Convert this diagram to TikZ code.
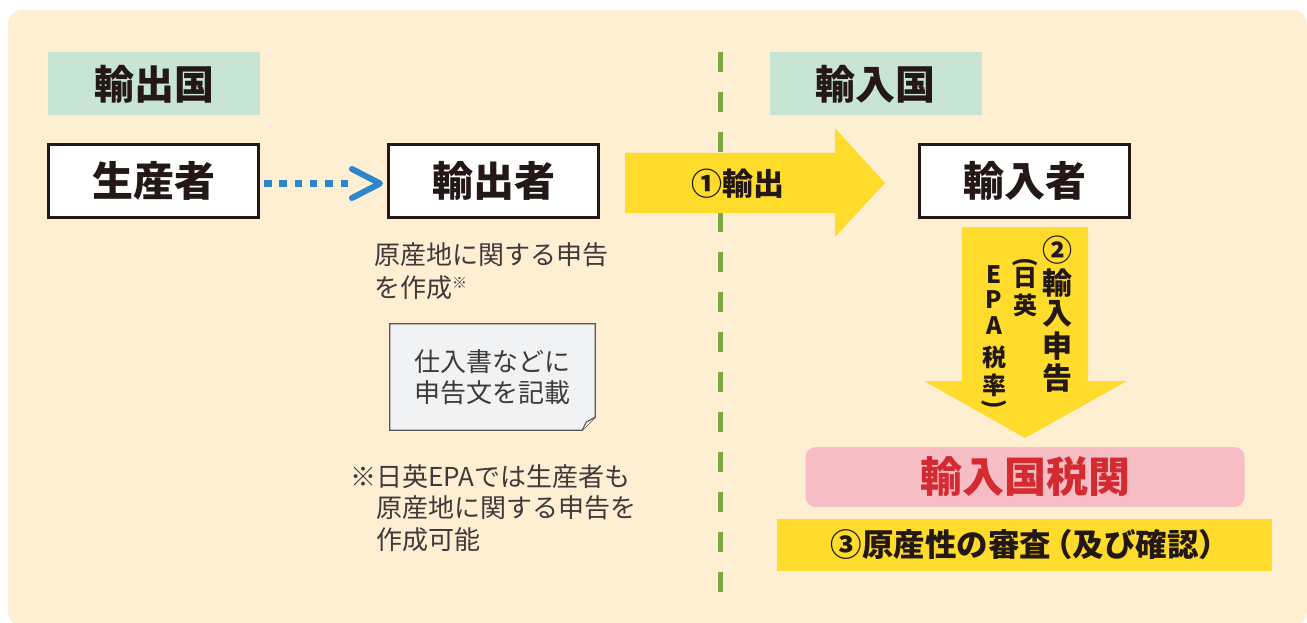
\documentclass[tikz,border=0pt]{standalone}
\usepackage{fontspec}
\newfontfamily\jp{Noto Sans CJK JP}
\usetikzlibrary{calc}
\definecolor{bgc}{HTML}{FEEFD3}
\definecolor{lblg}{HTML}{C8E5D3}
\definecolor{inkc}{HTML}{231815}
\definecolor{greyt}{HTML}{3E3A39}
\definecolor{yel}{HTML}{FFDC2C}
\definecolor{pinkc}{HTML}{F7BDC4}
\definecolor{redc}{HTML}{D42A31}
\definecolor{bluec}{HTML}{2C86C9}
\definecolor{greenl}{HTML}{7CA843}
\definecolor{docc}{HTML}{F1F2F4}
\definecolor{doclinec}{HTML}{595757}
\newcommand\myfs[1]{\fontsize{#1}{#1}\selectfont}
\tikzset{
  lbl/.style={fill=lblg, minimum width=212pt, minimum height=63pt, inner sep=0pt, text=inkc, font=\jp\bfseries\myfs{40}},
  actor/.style={draw=inkc, line width=3pt, fill=white, minimum width=210pt, minimum height=73pt, inner sep=0pt, text=inkc, font=\jp\bfseries\myfs{41}},
  bluedots/.style={bluec, line width=7.5pt, dash pattern=on 7.5pt off 7.8pt},
  bluehead/.style={bluec, line width=6pt, line cap=round, line join=round},
  divider/.style={greenl, line width=5pt, dash pattern=on 20pt off 20pt},
  yarrow/.style={fill=yel},
  vbig/.style={inner sep=0pt, text=inkc, font=\jp\bfseries\myfs{30}},
  vsmall/.style={inner sep=0pt, text=inkc, font=\jp\bfseries\myfs{24}},
  plain/.style={inner sep=0pt, text=greyt, align=left},
  docbox/.style={inner sep=0pt, minimum width=205pt, minimum height=106pt, text=greyt, font=\jp\fontsize{26}{31}\selectfont, align=center},
}
\begin{document}
\begin{tikzpicture}[x=1pt,y=-1pt]
\useasboundingbox (0,0) rectangle (1307,623);
\fill[bgc, rounded corners=14pt] (8,10) rectangle (1307,626);

% divider
\coordinate (divtop) at (720,52);
\coordinate (divbot) at (720,592);
\draw[divider] (divtop) -- (divbot);

% country labels
\node[lbl] (exc) at (154,84) {輸出国};
\node[lbl] (imc) at (875.5,84) {輸入国};

% actors
\node[actor] (prod) at (153.5,181) {生産者};
\node[actor] (expo) at (493.5,181) {輸出者};
\node[actor] (impo) at (1024.5,181) {輸入者};

% dotted arrow
\coordinate (dotend) at ([xshift=-36pt,yshift=-2.5pt]expo.west);
\draw[bluedots] ([xshift=4pt,yshift=-2.5pt]prod.east) -- (dotend);
\draw[bluehead] ([xshift=-35pt,yshift=12pt]expo.west) -- ([xshift=-7pt,yshift=-2.5pt]expo.west) -- ([xshift=-35pt,yshift=-17pt]expo.west);

% export arrow
\fill[yarrow] (625,153) -- (835,153) -- (835,128) -- (885,183) -- (835,237) -- (835,213) -- (625,213) -- cycle;
\node[inner sep=0pt, text=inkc, font=\jp\bfseries\myfs{31}] (exlbl) at (738,184) {①輸出};

% import declaration arrow
\fill[yarrow] (962,227) -- (1088,227) -- (1088,381) -- (1127,381) -- (1025,438) -- (924,381) -- (962,381) -- cycle;
\node[vbig] (v1a) at (1057.5,250) {②};
\node[vbig] (v1b) at (1057.5,283.5) {輸};
\node[vbig] (v1c) at (1057.5,314) {入};
\node[vbig] (v1d) at (1057.5,346.5) {申};
\node[vbig] (v1e) at (1057.5,378) {告};
\node[vsmall, rotate=-90] (v2a) at (1025,262) {(};
\node[vsmall] (v2b) at (1025,278) {日};
\node[vsmall] (v2c) at (1025,305) {英};
\node[vsmall] (v3a) at (994,275) {E};
\node[vsmall] (v3b) at (994,300) {P};
\node[vsmall] (v3c) at (994,326) {A};
\node[vsmall] (v3d) at (994,357.5) {税};
\node[vsmall] (v3e) at (994,385) {率};
\node[vsmall, rotate=-90] (v3f) at (994,404) {)};

% customs
\node[fill=pinkc, rounded corners=10pt, minimum width=439pt, minimum height=60pt, inner sep=0pt, text=redc, font=\jp\bfseries\myfs{42}] (cust) at (1025,477) {輸入国税関};
\node[fill=yel, minimum width=495pt, minimum height=52pt, inner sep=0pt] (exam) at (1024.5,545) {};
\node[inner sep=0pt, text=inkc, font=\jp\bfseries\myfs{31.5}] (examtxt) at ([xshift=6pt]exam.center) {③原産性の審査\kern-10pt（及び確認）};

% exporter notes
\node[plain, anchor=north west, font=\jp\fontsize{26}{33}\selectfont] (decl) at (374,242) {原産地に関する申告\\を作成{\myfs{15}\raisebox{9pt}{※}}};

\node[docbox] (doc) at (492.5,377) {};
\draw[doclinec, line width=1.2pt, fill=docc] (doc.north west) -- (doc.north east) -- ([yshift=13pt]doc.south east) -- ([xshift=-13pt]doc.south east) -- (doc.south west) -- cycle;
\node[docbox] (doctxt) at (doc.center) {仕入書などに\\申告文を記載};
\draw[doclinec, line width=1.2pt, fill=white, line join=round] ([yshift=13pt]doc.south east) -- ([xshift=-9pt,yshift=8pt]doc.south east) -- ([xshift=-13pt]doc.south east);

\node[plain, anchor=north west, font=\jp\fontsize{26}{31.5}\selectfont] (epa) at (350,464) {※日英EPAでは生産者も\\\hphantom{※}原産地に関する申告を\\\hphantom{※}作成可能};
\end{tikzpicture}
\end{document}
